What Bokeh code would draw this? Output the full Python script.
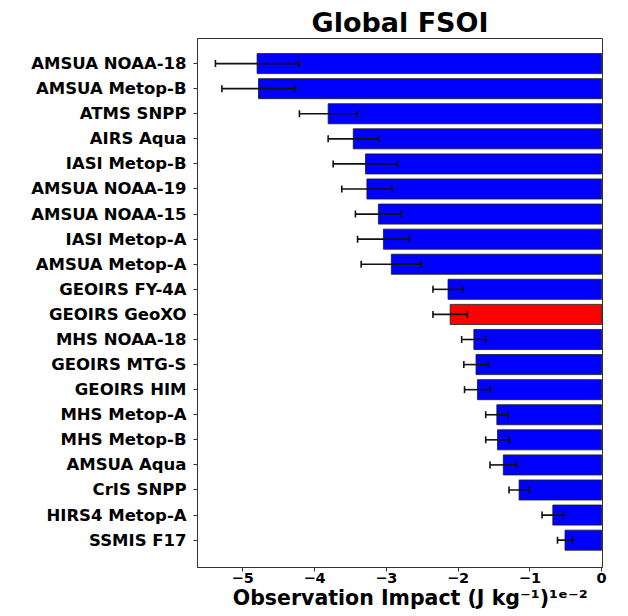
from bokeh.plotting import figure
from bokeh.models import Range1d, FixedTicker, Whisker, ColumnDataSource, TeeHead
from bokeh.embed import file_html
from bokeh.resources import INLINE

# ---- data (units of 1e-2 J/kg) ----
instruments = [
    "AMSUA NOAA-18", "AMSUA Metop-B", "ATMS SNPP", "AIRS Aqua", "IASI Metop-B",
    "AMSUA NOAA-19", "AMSUA NOAA-15", "IASI Metop-A", "AMSUA Metop-A", "GEOIRS FY-4A",
    "GEOIRS GeoXO", "MHS NOAA-18", "GEOIRS MTG-S", "GEOIRS HIM", "MHS Metop-A",
    "MHS Metop-B", "AMSUA Aqua", "CrIS SNPP", "HIRS4 Metop-A", "SSMIS F17",
]
impact = [-4.80, -4.78, -3.81, -3.46, -3.29, -3.27, -3.11, -3.04, -2.93, -2.14,
          -2.11, -1.78, -1.75, -1.73, -1.46, -1.45, -1.37, -1.15, -0.68, -0.51]
error = [0.58, 0.51, 0.40, 0.35, 0.45, 0.35, 0.32, 0.36, 0.42, 0.21,
         0.24, 0.17, 0.17, 0.18, 0.155, 0.165, 0.185, 0.14, 0.15, 0.105]
x_ticks = [-5, -4, -3, -2, -1, 0]
highlight = "GEOIRS GeoXO"

pos = list(range(len(instruments)))
colors = ["#ff0000" if n == highlight else "#0000ff" for n in instruments]
src = ColumnDataSource(dict(
    y=pos, left=impact, right=[0] * len(impact), color=colors,
    lower=[v - e for v, e in zip(impact, error)],
    upper=[v + e for v, e in zip(impact, error)],
))

FONT = "DejaVu Sans"

p = figure(width=620, height=614, output_backend="svg", toolbar_location=None,
           x_range=Range1d(-5.63, 0.012), y_range=Range1d(20.09, -1.0),
           min_border_left=197, min_border_right=18, min_border_top=38,
           min_border_bottom=47, title="Global FSOI")

p.hbar(y="y", left="left", right="right", height=0.8, fill_color="color",
       line_color="#1a1a1a", line_width=0.8, source=src)

w = Whisker(base="y", lower="lower", upper="upper", dimension="width", source=src,
            line_color="#111111", line_width=1.6, level="overlay",
            upper_head=TeeHead(size=7, line_color="#111111", line_width=1.6),
            lower_head=TeeHead(size=7, line_color="#111111", line_width=1.6))
p.add_layout(w)

# title
p.title.text_font = FONT
p.title.text_font_size = "27px"
p.title.text_font_style = "bold"
p.title.align = "center"
p.title.standoff = 2
p.title.text_color = "black"

# axes
p.xgrid.visible = False
p.ygrid.visible = False
p.outline_line_color = "#333333"
p.outline_line_width = 1
p.background_fill_color = "white"
p.border_fill_color = "white"

xa = p.xaxis[0]
xa.ticker = FixedTicker(ticks=x_ticks)
xa.major_label_overrides = {t: (("\u2212" + str(abs(t))) if t < 0 else str(t)) for t in x_ticks}
# matplotlib's "1e-2" offset text follows the label
xa.axis_label = "\u2003Observation Impact (J kg\u207b\u00b9)\u00b9\u1d49\u207b\u00b2"
xa.axis_label_text_font = FONT
xa.axis_label_text_font_size = "20.5px"
xa.axis_label_text_font_style = "bold"
xa.axis_label_text_color = "black"
xa.axis_label_standoff = 0
xa.major_label_text_font = FONT
xa.major_label_text_font_size = "14.5px"
xa.major_label_text_font_style = "bold"
xa.major_label_text_color = "black"
xa.major_label_standoff = 1
xa.minor_tick_line_color = None
xa.major_tick_in = 0
xa.major_tick_out = 4
xa.axis_line_color = "#333333"
xa.major_tick_line_color = "#333333"

ya = p.yaxis[0]
ya.ticker = FixedTicker(ticks=pos)
ya.major_label_overrides = {i: n for i, n in zip(pos, instruments)}
ya.major_label_text_font = FONT
ya.major_label_text_font_size = "16.5px"
ya.major_label_text_font_style = "bold"
ya.major_label_text_color = "black"
ya.major_label_standoff = 7
ya.minor_tick_line_color = None
ya.major_tick_in = 0
ya.major_tick_out = 4
ya.axis_line_color = "#333333"
ya.major_tick_line_color = "#333333"

open("out.html", "w").write(file_html(p, INLINE))
